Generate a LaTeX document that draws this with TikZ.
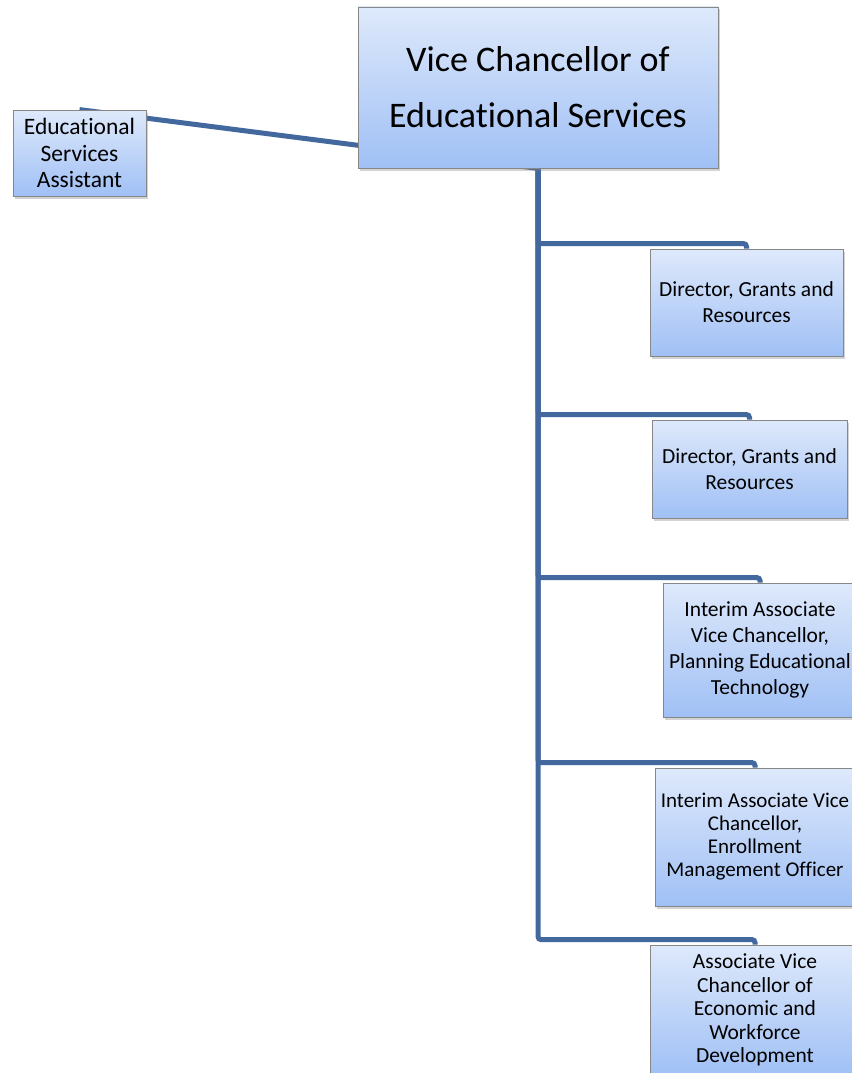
\documentclass[tikz,border=0pt]{standalone}
\usepackage{fontspec}
\setmainfont[Ligatures=NoCommon]{Carlito}
\usetikzlibrary{shadows,backgrounds}

\definecolor{linkblue}{RGB}{66,104,158}
\definecolor{boxtop}{RGB}{222,233,251}
\definecolor{boxbottom}{RGB}{160,192,245}
\definecolor{boxline}{RGB}{135,135,135}

\begin{document}
\begin{tikzpicture}[x=1pt, y=-1pt,
    every node/.style={
        draw=boxline,
        line width=.8pt,
        top color=boxtop,
        bottom color=boxbottom,
        drop shadow={shadow xshift=1.5pt, shadow yshift=-2.5pt, opacity=.35},
        align=center,
        inner sep=2pt},
    link/.style={draw=linkblue, line width=5pt, rounded corners=3pt}]

    \useasboundingbox (0,0) rectangle (851,1073);

    \node[minimum width=360pt, minimum height=161pt,
          font=\fontsize{36}{56}\selectfont] (VC) at (538,87.5)
        {Vice Chancellor of\\Educational Services};
    \node[minimum width=133pt, minimum height=86pt,
          font=\fontsize{23.5}{26.5}\selectfont] (ESA) at (79.5,153)
        {Educational\\Services\\Assistant};

    \node[minimum width=193pt, minimum height=107pt,
          font=\fontsize{21.5}{26}\selectfont] (DGR1) at (746.5,302.5)
        {Director, Grants and\\Resources};
    \node[minimum width=195pt, minimum height=98pt,
          font=\fontsize{21.5}{26}\selectfont] (DGR2) at (749.5,469)
        {Director, Grants and\\Resources};
    \node[minimum width=194pt, minimum height=134pt,
          font=\fontsize{21.5}{26}\selectfont] (IAP) at (760,650)
        {Interim Associate\\Vice Chancellor,\\Planning Educational\\Technology};
    \node[minimum width=200pt, minimum height=138pt,
          font=\fontsize{21}{23}\selectfont] (IAE) at (755,837)
        {Interim Associate Vice\\Chancellor,\\Enrollment\\Management Officer};
    \node[minimum width=210pt, minimum height=130pt,
          font=\fontsize{21.5}{23.5}\selectfont] (AVC) at (755,1010)
        {Associate Vice\\Chancellor of\\Economic and\\Workforce\\Development};

    % connectors behind the boxes
    \begin{scope}[on background layer]
        \draw[link] (ESA.north) -- (VC.south);
        \foreach \n in {DGR1,DGR2,IAP,IAE,AVC}
            \draw[link] (VC.south) |- ([yshift=5pt]\n.north) -- (\n.north);
    \end{scope}
\end{tikzpicture}
\end{document}
